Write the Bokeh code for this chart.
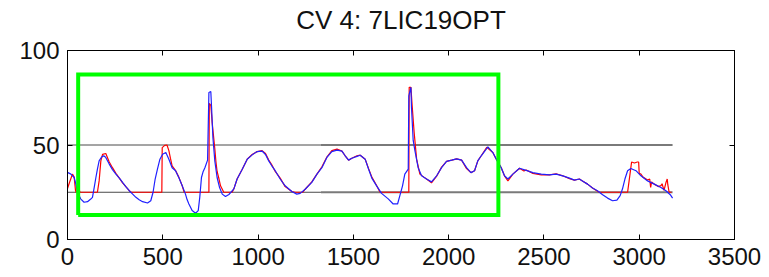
from bokeh.plotting import figure
from bokeh.models import Range1d, FixedTicker, LinearAxis, CustomJSTickFormatter
from bokeh.embed import file_html
from bokeh.resources import INLINE

title_text = "CV 4: 7LIC19OPT"
x_ticks = [0, 500, 1000, 1500, 2000, 2500, 3000, 3500]
y_ticks = [0, 50, 100]
x_max, y_max = 3500, 100

blue_x = [0, 18, 35, 44, 52, 70, 87, 105, 122, 131, 140, 149, 157, 166, 178, 190, 200, 219, 236, 254,
          272, 289, 306, 324, 342, 359, 376, 394, 420, 437, 449, 460, 472, 485, 499, 516, 532, 549, 567, 584,
          602, 619, 628, 637, 654, 672, 686, 694, 703, 712, 721, 735, 742, 752, 756, 763, 773, 785, 798, 812,
          829, 847, 873, 890, 917, 943, 969, 995, 1021, 1039, 1056, 1072, 1090, 1116, 1142, 1177, 1203, 1221, 1247, 1282,
          1309, 1335, 1361, 1387, 1414, 1440, 1457, 1475, 1492, 1519, 1536, 1562, 1580, 1597, 1622, 1648, 1683, 1709, 1732, 1744,
          1758, 1770, 1788, 1791, 1802, 1805, 1814, 1823, 1840, 1858, 1884, 1910, 1937, 1963, 1989, 2016, 2042, 2068, 2094, 2117,
          2136, 2153, 2171, 2206, 2232, 2250, 2276, 2293, 2311, 2337, 2372, 2407, 2442, 2486, 2529, 2564, 2599, 2634, 2660, 2686,
          2702, 2729, 2755, 2781, 2808, 2834, 2860, 2883, 2900, 2912, 2925, 2939, 2956, 2983, 3009, 3044, 3079, 3114, 3140, 3163, 3175]
blue_y = [35.5, 34.6, 32.8, 29.3, 25, 21.4, 19.7, 20, 21.4, 22.3, 27.5, 32.8, 37.2, 41.6, 43.5, 44.3, 43.5, 39.9, 37, 34.6,
          32.5, 30.2, 28, 25.8, 24, 22.3, 21, 20, 19.3, 20.5, 25, 32, 37.2, 42.5, 45.1, 46, 42.5, 38, 36.4, 32.8,
          28.4, 24, 21, 18.8, 15.3, 13.9, 15.3, 22.3, 32.8, 36, 38, 42, 77.8, 78.3, 70, 54, 41.6, 32.8, 27.5, 24,
          22.7, 23.8, 26.8, 32, 37.2, 42.5, 44.8, 46.5, 46.8, 45, 41.6, 39, 36.4, 32, 28.4, 25.4, 24, 24.4, 26.6, 30.2,
          34.6, 38, 43.4, 46.5, 47.3, 46.8, 44.3, 42, 43, 44, 44.6, 42.5, 37.2, 32.5, 28.4, 24.4, 21.5, 18.8, 18.8, 23.2,
          28.4, 34.6, 37.2, 76, 80.5, 70, 52.4, 47, 38, 33.7, 32, 30.5, 33.7, 38, 41.3, 42, 42.7, 42, 38, 35.4,
          36.4, 41.6, 44.3, 49, 46, 42.5, 38, 33.7, 32, 34.6, 37.7, 36.6, 35.4, 34.6, 34.2, 34.6, 33.7, 32.5, 31.4, 32,
          31, 29.3, 27.2, 25.8, 23.7, 21.9, 20.5, 20.8, 23.2, 26.7, 32, 36.4, 37.6, 36.4, 33.7, 31, 29.3, 27.5, 25.8, 23.7, 21.9]

red_x = [0, 10, 26, 35, 42, 45, 55, 62, 66, 157, 166, 175, 184, 201, 219, 236, 254, 272, 289, 306,
         324, 335, 495, 497, 510, 522, 532, 540, 549, 567, 584, 602, 612, 742, 744, 752, 759, 766, 773, 779,
         785, 795, 803, 820, 864, 873, 890, 917, 943, 969, 995, 1021, 1039, 1056, 1072, 1090, 1116, 1142, 1177, 1195,
         1235, 1247, 1282, 1309, 1335, 1361, 1387, 1414, 1440, 1457, 1475, 1492, 1519, 1536, 1562, 1580, 1597, 1622, 1640, 1791,
         1793, 1802, 1808, 1819, 1832, 1849, 1870, 1884, 1910, 1937, 1963, 1989, 2016, 2042, 2068, 2094, 2117, 2136, 2153, 2171,
         2200, 2232, 2250, 2276, 2293, 2311, 2337, 2372, 2395, 2407, 2442, 2486, 2529, 2564, 2599, 2634, 2660, 2686, 2702, 2729,
         2755, 2781, 2790, 2939, 2947, 2960, 2975, 2990, 2997, 3000, 3009, 3020, 3044, 3055, 3060, 3065, 3079, 3100, 3114, 3120,
         3130, 3140, 3147, 3150, 3157, 3170]
red_y = [27, 30, 34.6, 33, 26, 25, 26, 26, 25, 25, 31, 41.6, 45, 45.5, 41, 38, 35, 32.5, 30, 28,
         25.8, 25, 25, 48.6, 49.8, 50, 47, 43, 39, 36.5, 33, 28.4, 25, 25, 72, 71, 62, 55, 48, 41,
         36, 32, 28.4, 25, 25, 26.8, 32, 37.2, 42.5, 45, 46.5, 47, 45.5, 42, 39.5, 36, 32.5, 28, 25.4, 25,
         25, 26.6, 30.5, 34.6, 38.5, 43.6, 47, 47.8, 46.8, 44.3, 42, 43, 44.3, 44.6, 42.5, 37.5, 33, 28.6, 25, 25,
         80.5, 80.5, 71.5, 56.6, 42.5, 34.6, 33, 32, 30, 33.5, 38.3, 41.3, 42, 42.7, 42, 37.5, 35.4, 36.4, 41.6, 44.3,
         48.8, 46, 42.5, 38, 33.7, 31, 34.6, 37.7, 36.3, 36.8, 35, 34.2, 34.2, 34.8, 33.7, 32.2, 31.4, 32, 31, 29.3,
         27.2, 25.5, 25, 25, 31, 41, 40.5, 41, 41, 35, 34.6, 33, 31.5, 32, 27.5, 30.5, 29.3, 28, 28.5, 29.5,
         26, 30, 32, 29, 25, 25]

ref_levels = [50, 25]
ref_dark_x = [0, 1330]
ref_light_x = [1330, 3175]

box_left, box_right, box_bottom, box_top = 56, 2261, 13, 87.3

FONT = "Liberation Sans"

p = figure(frame_width=667, frame_height=189, x_range=Range1d(0, x_max), y_range=Range1d(0, y_max),
           output_backend="svg", toolbar_location=None,
           min_border_left=67, min_border_right=35, min_border_top=50, min_border_bottom=38)
p.background_fill_color = "white"
p.border_fill_color = "white"
p.grid.visible = False
p.outline_line_color = "black"
p.outline_line_width = 1

p.title.text = title_text
p.title.align = "center"
p.title.text_font = FONT
p.title.text_font_size = "26px"
p.title.text_font_style = "normal"
p.title.text_color = "#111111"
p.title.standoff = 2

for ax in p.xaxis:
    ax.ticker = FixedTicker(ticks=x_ticks)
    ax.major_label_standoff = 8
for ax in p.yaxis:
    ax.ticker = FixedTicker(ticks=y_ticks)
    ax.major_label_standoff = 8
for ax in list(p.xaxis) + list(p.yaxis):
    ax.major_tick_in = 5
    ax.major_tick_out = 0
    ax.minor_tick_line_color = None
    ax.axis_line_color = "black"
    ax.major_tick_line_color = "black"
    ax.major_label_text_font = FONT
    ax.major_label_text_font_size = "24px"
    ax.major_label_text_color = "#111111"

blank = CustomJSTickFormatter(code="return ''")
# top axis: inward ticks only; its (blank) axis label only reserves the gap under the title
top = LinearAxis(ticker=FixedTicker(ticks=x_ticks), formatter=blank, major_tick_in=5, major_tick_out=0,
                 minor_tick_line_color=None, major_label_standoff=0,
                 axis_label="\u00a0", axis_label_standoff=1, axis_label_text_font_size="10px",
                 axis_label_text_color="white")
right = LinearAxis(ticker=FixedTicker(ticks=y_ticks), formatter=blank, major_tick_in=5, major_tick_out=0,
                   minor_tick_line_color=None, major_label_standoff=0)
p.add_layout(top, "above")
p.add_layout(right, "right")

for lv in ref_levels:
    p.line(ref_dark_x, [lv, lv], line_color="#4a4a4a", line_width=1)
    p.line(ref_light_x, [lv, lv], line_color="#7a7a7a", line_width=2)

p.line(red_x, red_y, line_color="#ff0000", line_width=1.2)
p.line(blue_x, blue_y, line_color="#2020ff", line_width=1.2)

p.line([box_left, box_right, box_right, box_left, box_left],
       [box_bottom, box_bottom, box_top, box_top, box_bottom],
       line_color="#00ff00", line_width=4, line_join="miter")

open("out.html", "w").write(file_html(p, INLINE))
